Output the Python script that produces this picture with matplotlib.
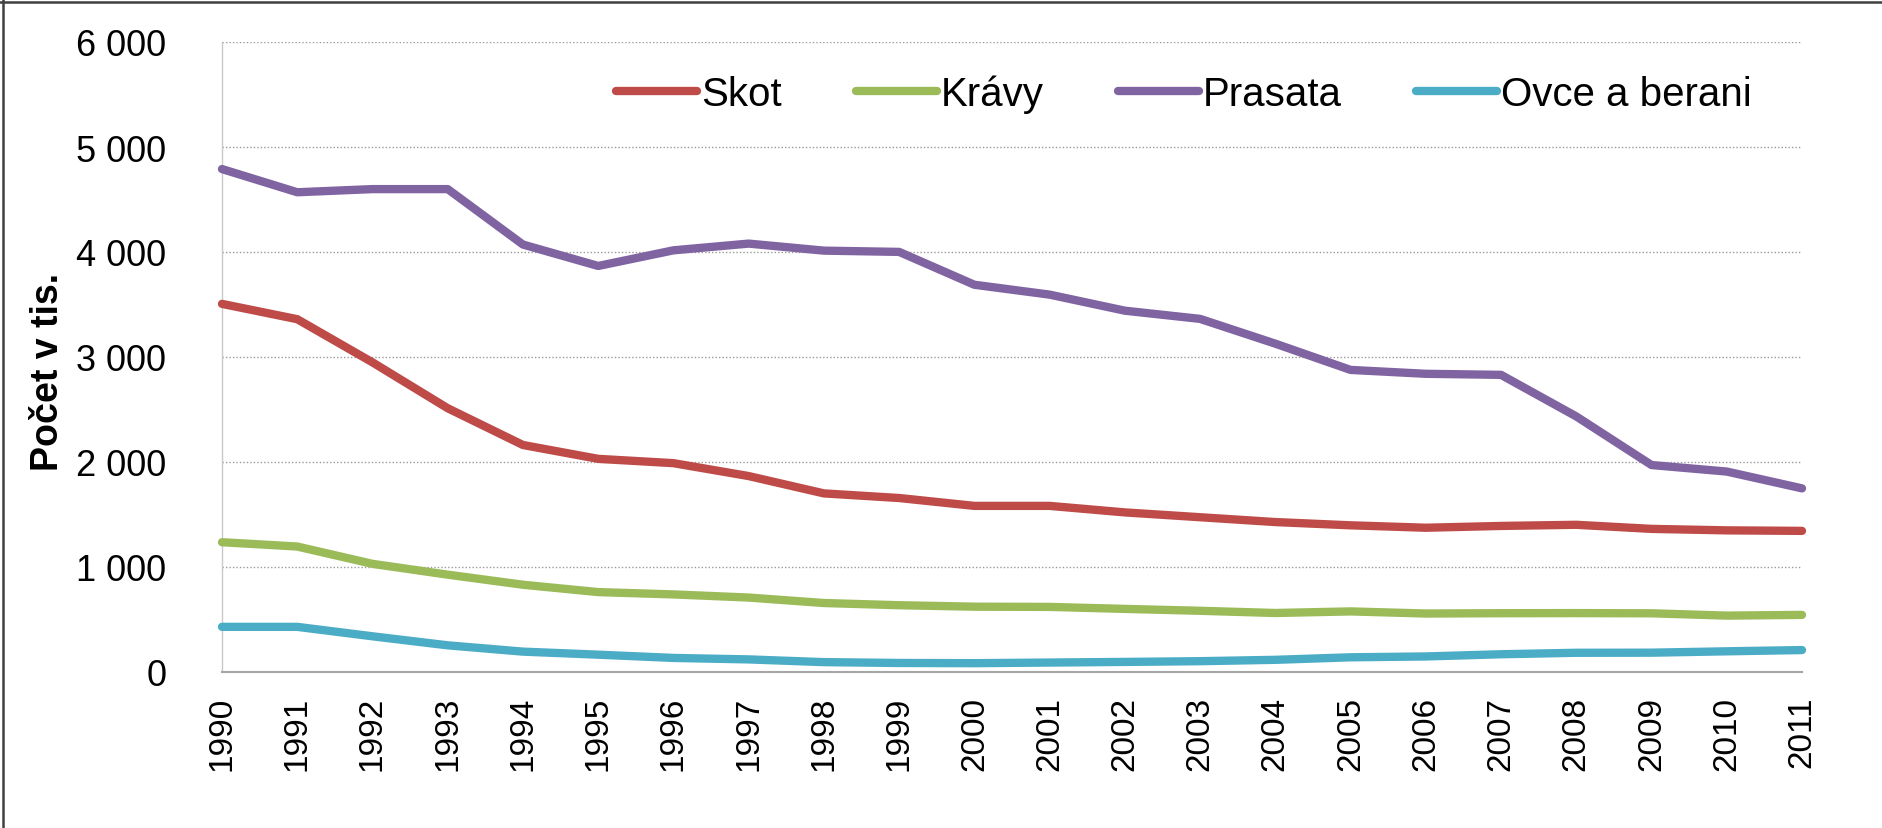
import matplotlib
matplotlib.use("Agg")
import matplotlib.pyplot as plt
from matplotlib.lines import Line2D
from matplotlib.ticker import FuncFormatter

# data (thousands of head)
years = list(range(1990, 2012))
skot = [3506, 3360, 2949, 2512, 2162, 2030, 1989, 1866, 1701, 1657, 1582,
        1582, 1520, 1474, 1428, 1397, 1374, 1391, 1402, 1363, 1349, 1344]
kravy = [1236, 1195, 1030, 927, 831, 761, 739, 709, 657, 636, 622,
         620, 601, 583, 562, 577, 557, 560, 561, 559, 537, 544]
prasata = [4790, 4569, 4599, 4599, 4071, 3867, 4016, 4080, 4013, 4001, 3688,
           3594, 3441, 3363, 3127, 2877, 2840, 2830, 2434, 1971, 1909, 1749]
ovce = [430, 430, 340, 254, 194, 165, 134, 120, 94, 86, 84,
        90, 96, 103, 116, 140, 148, 169, 183, 184, 197, 209]

labels = ["Skot", "Krávy", "Prasata", "Ovce a berani"]
colors = ["#BE4B48", "#9BBB59", "#8064A2", "#4BACC6"]
yticks = [0, 1000, 2000, 3000, 4000, 5000, 6000]

plt.rcParams["font.family"] = ["Liberation Sans", "DejaVu Sans"]

fig = plt.figure(figsize=(18.83, 8.29), dpi=100)
ax = fig.add_axes([222 / 1883, 1 - 673 / 829, (1802 - 222) / 1883, (673 - 43) / 829])

for series, lab, col in zip([skot, kravy, prasata, ovce], labels, colors):
    ax.plot(years, series, color=col, lw=6, label=lab,
            solid_capstyle="round", solid_joinstyle="round", clip_on=False, zorder=3)

ax.set_xlim(1990, 2011)
ax.set_ylim(0, 6000)
ax.set_xticks(years)
ax.set_xticklabels([str(y) for y in years], rotation=90, fontsize=24)
ax.set_yticks(yticks)
ax.yaxis.set_major_formatter(FuncFormatter(lambda v, p: f"{int(v):,}".replace(",", " ")))
ax.tick_params(axis="y", labelsize=26, length=0, pad=40)
ax.tick_params(axis="x", length=0, pad=17)

ax.grid(axis="y", linestyle=(0, (1, 1.5)), color="#9A9A9A", lw=1)
ax.set_axisbelow(True)
for s in ["top", "right"]:
    ax.spines[s].set_visible(False)
ax.spines["left"].set_color("#C8C8C8")
ax.spines["left"].set_linewidth(1)
ax.spines["bottom"].set_color("#A6A6A6")
ax.spines["bottom"].set_linewidth(1.5)

ax.set_ylabel("Počet v tis.", fontsize=27, fontweight="bold")
ax.yaxis.set_label_coords(66 / 1883, 1 - 372 / 829, transform=fig.transFigure)

ax.legend(loc="center", bbox_to_anchor=(1184 / 1883, 1 - 95 / 829),
          bbox_transform=fig.transFigure, ncol=4, frameon=False,
          fontsize=29, handlelength=2.0, handletextpad=0.1, columnspacing=1.85)

# outer frame (top and left edges)
fig.add_artist(Line2D([0, 1], [1 - 3 / 829, 1 - 3 / 829], transform=fig.transFigure,
                      color="#404040", lw=1.8))
fig.add_artist(Line2D([3 / 1883, 3 / 1883], [0, 1], transform=fig.transFigure,
                      color="#404040", lw=1.8))

fig.savefig("out.png", dpi=100)
